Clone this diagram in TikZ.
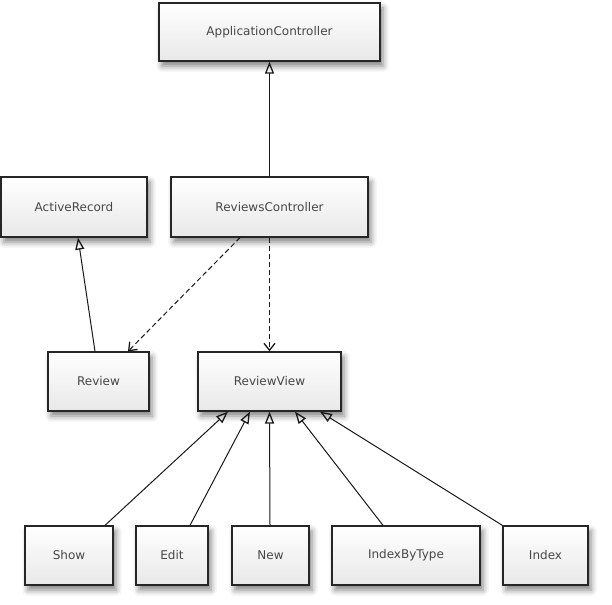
\documentclass[tikz,border=0pt]{standalone}
\usepackage{fontspec}
\setsansfont{DejaVu Sans}
\usetikzlibrary{arrows.meta,shadows,shadows.blur}

\tikzset{
  cls/.style={draw=black!85, line width=1.3pt, top color=white, bottom color=black!9,
    blur shadow={shadow xshift=3pt, shadow yshift=-5pt, shadow blur radius=6pt, shadow opacity=50},
    font=\sffamily\fontsize{12}{14}\selectfont, text=black!72, inner sep=0pt},
  isa/.style={-{Triangle[open,length=12pt,width=9pt,line width=1.3pt]}, line width=1pt, draw=black!90},
  uses/.style={dashed, dash pattern=on 5pt off 3pt, -{Straight Barb[length=7pt,width=11pt,line width=1.3pt]}, line width=1pt, draw=black!90},
}

\begin{document}
\begin{tikzpicture}[x=1pt, y=-1pt]
  \useasboundingbox (0,0) rectangle (612,604);
  % classes
  \node[cls, minimum width=221pt, minimum height=58pt] (appctrl) at (269.5,32) {ApplicationController};
  \node[cls, minimum width=146pt, minimum height=60pt] (active) at (74,207) {ActiveRecord};
  \node[cls, minimum width=197pt, minimum height=60pt] (revctrl) at (269.5,207) {ReviewsController};
  \node[cls, minimum width=101pt, minimum height=59pt] (review) at (98.5,381.5) {Review};
  \node[cls, minimum width=143pt, minimum height=59pt] (revview) at (269.5,381.5) {ReviewView};
  % views
  \node[cls, minimum width=88pt, minimum height=59pt] (show) at (69,555.5) {Show};
  \node[cls, minimum width=72pt, minimum height=59pt] (edit) at (172,555.5) {Edit};
  \node[cls, minimum width=77pt, minimum height=59pt] (new) at (270.5,555.5) {New};
  \node[cls, minimum width=148pt, minimum height=59pt] (ibt) at (406,555.5) {IndexByType};
  \node[cls, minimum width=85pt, minimum height=59pt] (index) at (545.5,555.5) {Index};
  % inheritance
  \draw[isa] (revctrl.north) -- (appctrl.south);
  \draw[isa] ([xshift=-3.5pt]review.north) -- ([xshift=4pt]active.south);
  \draw[isa] ([xshift=36pt]show.north) -- ([xshift=-41.5pt]revview.south);
  \draw[isa] ([xshift=18pt]edit.north) -- ([xshift=-19.5pt]revview.south);
  \draw[isa] ([xshift=-0.5pt]new.north) -- (revview.south);
  \draw[isa] ([xshift=-23pt]ibt.north) -- ([xshift=25.5pt]revview.south);
  \draw[isa] (index.north west) -- ([xshift=50.5pt]revview.south);
  % dependencies
  \draw[uses] ([xshift=-29.5pt]revctrl.south) -- ([xshift=29.5pt]review.north);
  \draw[uses] (revctrl.south) -- (revview.north);
\end{tikzpicture}
\end{document}
